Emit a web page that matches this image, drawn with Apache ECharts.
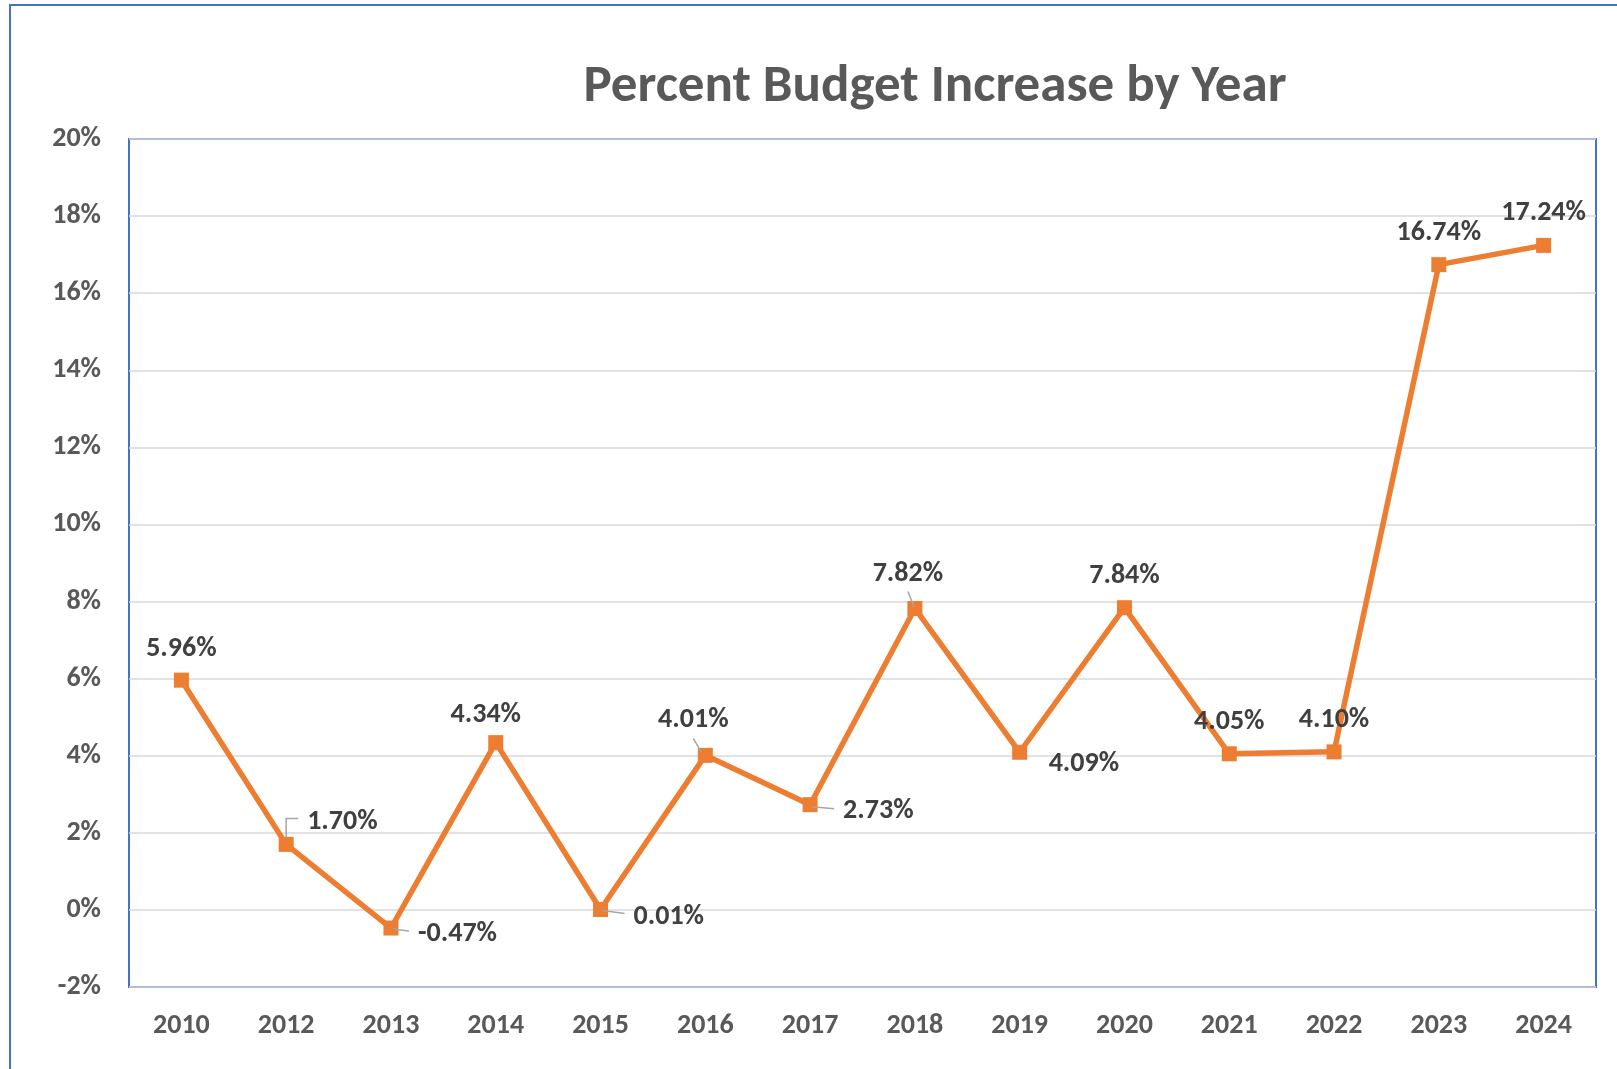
<!DOCTYPE html>
<html>
<head>
<meta charset="utf-8">
<title>Percent Budget Increase by Year</title>
<script src="https://cdn.jsdelivr.net/npm/echarts@6/dist/echarts.min.js"></script>
<style>
  html, body { margin: 0; padding: 0; background: #ffffff; overflow: hidden; }
  #chart { width: 1617px; height: 1069px; }
</style>
</head>
<body>
<div id="chart"></div>
<script>
// Fiscal years on the horizontal axis (2011 is not reported)
const years = ['2010', '2012', '2013', '2014', '2015', '2016', '2017',
               '2018', '2019', '2020', '2021', '2022', '2023', '2024'];

// Year-over-year budget increase, in percent
const increases = [5.96, 1.70, -0.47, 4.34, 0.01, 4.01, 2.73,
                   7.82, 4.09, 7.84, 4.05, 4.10, 16.74, 17.24];

// Value axis ticks, in percent
const yTicks = [-2, 0, 2, 4, 6, 8, 10, 12, 14, 16, 18, 20];

const FONT = 'Carlito, Lato, "Open Sans", sans-serif';
const ORANGE = '#ED7D31';
const BLUE = '#4472C4';

// Where each value label sits relative to its marker (pixels)
const labelPlacement = {
  '2010': { align: 'center', offset: [0, -31] },
  '2012': { align: 'left',   offset: [21, -22] },
  '2013': { align: 'left',   offset: [27, 6] },
  '2014': { align: 'center', offset: [-10, -28] },
  '2015': { align: 'left',   offset: [33, 7] },
  '2016': { align: 'center', offset: [-12, -35] },
  '2017': { align: 'left',   offset: [33, 6] },
  '2018': { align: 'center', offset: [-7, -34] },
  '2019': { align: 'left',   offset: [29, 12] },
  '2020': { align: 'center', offset: [0, -32] },
  '2021': { align: 'center', offset: [0, -32] },
  '2022': { align: 'center', offset: [0, -32] },
  '2023': { align: 'center', offset: [0, -32] },
  '2024': { align: 'center', offset: [0, -32] }
};

// Short grey leader lines joining a moved label back to its marker
const leaderPaths = {
  '2012': [[0, -7], [0, -26], [12, -26]],
  '2013': [[2, 1], [18, 3]],
  '2015': [[2, 1], [24, 4]],
  '2016': [[-4, -3], [-12, -17]],
  '2017': [[2, 2], [24, 4]],
  '2018': [[-1, -2], [-7, -17]]
};

const lineData = increases.map(function (v, i) {
  const p = labelPlacement[years[i]];
  return {
    value: v,
    label: { position: 'inside', align: p.align, verticalAlign: 'middle', offset: p.offset }
  };
});

const leaderData = [];
years.forEach(function (y, i) {
  if (leaderPaths[y]) leaderData.push([i, increases[i], y]);
});

const chart = echarts.init(document.getElementById('chart'), null, { renderer: 'canvas' });

chart.setOption({
  backgroundColor: '#ffffff',
  animation: false,
  title: {
    text: 'Percent Budget Increase by Year',
    left: 930,
    top: 83,
    textAlign: 'center',
    textVerticalAlign: 'middle',
    textStyle: { fontFamily: FONT, fontSize: 53, fontWeight: 'bold', color: '#595959' }
  },
  graphic: [{
    type: 'rect',
    silent: true,
    z: -10,
    shape: { x: 10, y: 5, width: 1700, height: 1200 },
    style: { fill: 'none', stroke: BLUE, lineWidth: 2 }
  }],
  grid: {
    left: 129, right: 21, top: 139, bottom: 82,
    show: true, borderColor: BLUE, borderWidth: 2, backgroundColor: 'transparent'
  },
  xAxis: {
    type: 'category',
    data: years,
    boundaryGap: true,
    axisLine: { show: false },
    axisTick: { show: false },
    axisLabel: {
      margin: 25, fontFamily: FONT, fontSize: 28, fontWeight: 'bold', color: '#595959'
    }
  },
  yAxis: {
    type: 'value',
    min: yTicks[0],
    max: yTicks[yTicks.length - 1],
    interval: yTicks[1] - yTicks[0],
    axisLine: { show: false },
    axisTick: { show: false },
    splitLine: { lineStyle: { color: '#D9D9D9', width: 1.5 } },
    axisLabel: {
      margin: 28, fontFamily: FONT, fontSize: 28, fontWeight: 'bold', color: '#595959',
      formatter: '{value}%'
    }
  },
  series: [
    {
      type: 'line',
      data: lineData,
      symbol: 'rect',
      symbolSize: 15,
      lineStyle: { color: ORANGE, width: 5.5 },
      itemStyle: { color: ORANGE },
      z: 3,
      label: {
        show: true,
        fontFamily: FONT, fontSize: 28, fontWeight: 'bold', color: '#404040',
        formatter: function (p) { return p.value.toFixed(2) + '%'; }
      }
    },
    {
      type: 'custom',
      data: leaderData,
      z: 5,
      silent: true,
      encode: { x: 0, y: 1 },
      renderItem: function (params, api) {
        const c = api.coord([api.value(0), api.value(1)]);
        const path = leaderPaths[years[api.value(0)]];
        return {
          type: 'polyline',
          shape: { points: path.map(function (d) { return [c[0] + d[0], c[1] + d[1]]; }) },
          style: { stroke: '#A6A6A6', lineWidth: 1.5, fill: null }
        };
      }
    }
  ]
});
</script>
</body>
</html>
